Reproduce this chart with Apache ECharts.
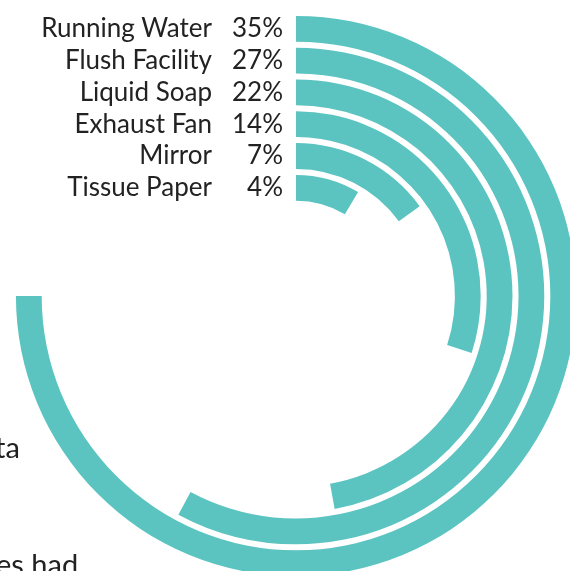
<!DOCTYPE html>
<html><head><meta charset="utf-8">
<script src="https://cdn.jsdelivr.net/npm/echarts@6/dist/echarts.min.js"></script>
<style>html,body{margin:0;padding:0;background:#fff;overflow:hidden}#c{width:570px;height:571px}</style>
</head><body><div id="c"></div>
<script>
// categories from inner ring to outer ring
const categories = ['Tissue Paper', 'Mirror', 'Exhaust Fan', 'Liquid Soap', 'Flush Facility', 'Running Water'];
const values = [4, 7, 14, 22, 27, 35];
const fullCircle = 35 / 0.75; // the largest ring covers three quarters of the circle
const pageFragments = ['ta', 'es had'];

const chart = echarts.init(document.getElementById('c'), null, {renderer: 'canvas'});
const font = 'Lato, "Noto Sans", sans-serif';
chart.setOption({
  animation: false,
  polar: {center: [296, 296], radius: [92.3, 283.1]},
  angleAxis: {
    type: 'value', min: 0, max: fullCircle, startAngle: 90, clockwise: true,
    show: false
  },
  radiusAxis: {
    type: 'category', data: categories, angle: 90,
    axisLine: {show: false}, axisTick: {show: false}, splitLine: {show: false},
    axisLabel: {
      show: true, interval: 0, hideOverlap: false, margin: 13, align: 'right', verticalAlign: 'middle',
      formatter: (v, i) => '{n|' + v + '}{v|' + values[i] + '%}',
      rich: {
        n: {fontFamily: font, fontSize: 26, color: '#222', width: 180, align: 'right'},
        v: {fontFamily: font, fontSize: 26, color: '#222', width: 71, align: 'right'}
      }
    }
  },
  series: [{
    type: 'bar', coordinateSystem: 'polar', data: values,
    barCategoryGap: '19%',
    itemStyle: {color: '#5bc4c1'},
    silent: true
  }],
  graphic: [
    {type: 'text', left: -5, top: 434, style: {text: pageFragments[0], font: '29px ' + font, fill: '#222'}},
    {type: 'text', left: -4, top: 551, style: {text: pageFragments[1], font: '29px ' + font, fill: '#222'}}
  ]
});
</script></body></html>
